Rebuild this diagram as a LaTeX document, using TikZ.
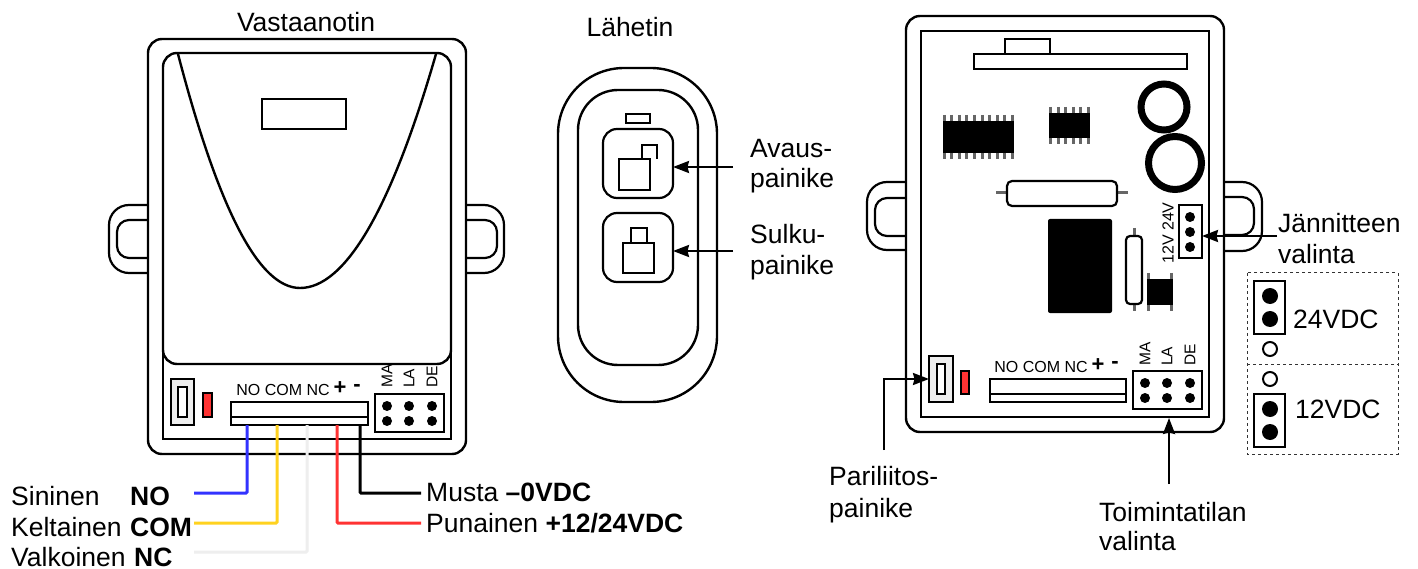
\documentclass[tikz,border=0pt]{standalone}
\usepackage{fontspec}
\setmainfont{Liberation Sans}
\usetikzlibrary{arrows.meta}
\definecolor{wblue}{HTML}{3333FF}
\definecolor{wyellow}{HTML}{FFD21F}
\definecolor{wwhite}{HTML}{EEEEEE}
\definecolor{wred}{HTML}{FF3333}
\definecolor{pingray}{HTML}{666666}
\newcommand{\rc}[6]{%
 \pgfmathsetmacro\myw{#5-#3}\pgfmathsetmacro\myh{#6-#4}%
 \pgfmathsetmacro\myx{(#3+#5)/2}\pgfmathsetmacro\myy{(#4+#6)/2}%
 \node[#1,minimum width=\myw pt,minimum height=\myh pt] (#2) at (\myx,\myy) {};}
\newcommand{\bigtxt}{\fontsize{26.5}{30}\selectfont}
\newcommand{\smalltxt}{\fontsize{16}{18}\selectfont}
\tikzset{
 x=1pt,y=-1pt,
 part/.style={draw=black,line width=2.4pt,fill=white,inner sep=0pt,outer sep=0pt},
 thin part/.style={part,line width=2.2pt},
 shell/.style={part,rounded corners=14pt},
 keybtn/.style={thin part,rounded corners=14pt},
 gray sw/.style={thin part,fill=wwhite},
 led/.style={thin part,fill=wred},
 chip/.style={fill=black,inner sep=0pt,outer sep=0pt},
 pin/.style={draw=pingray,line width=3pt},
 wire/.style={line width=3pt,rounded corners=1pt},
 pointer/.style={draw=black,line width=2.2pt,-{Stealth[length=16pt,width=12pt,inset=1.5pt]}},
 big/.style={inner sep=0pt,font=\bigtxt,anchor=base west},
 bigc/.style={inner sep=0pt,font=\bigtxt,anchor=base},
 small/.style={inner sep=0pt,font=\smalltxt,anchor=base},
 vert/.style={inner sep=0pt,font=\fontsize{15.5}{18}\selectfont,rotate=90,anchor=west},
 sym/.style={inner sep=0pt,font=\fontsize{22}{22}\selectfont\bfseries},
}
\begin{document}
\begin{tikzpicture}
\useasboundingbox (0,0) rectangle (1418,569);
\fill[white] (0,0) rectangle (1418,569);

% ---------- Receiver
\draw[line width=2.2pt,rounded corners=20pt] (148,205) -- (109,205) -- (109,273) -- (148,273);
\draw[line width=2.2pt,rounded corners=12pt] (148,220) -- (117,220) -- (117,258) -- (148,258);
\draw[line width=2.2pt,rounded corners=20pt] (466,205) -- (504,205) -- (504,273) -- (466,273);
\draw[line width=2.2pt,rounded corners=12pt] (466,220) -- (497,220) -- (497,258) -- (466,258);
\rc{shell}{recvOuter}{148}{39}{466}{454}
\draw[line width=2.4pt] (163,200) -- (163,439) -- (451,439) -- (451,200);
\rc{shell}{recvPanel}{163}{53}{451}{364}
\draw[line width=2.4pt] (178,54) .. controls (218.7,210) and (259,288) .. (300,288)
  .. controls (345,288) and (391,210) .. (436,54);
\rc{part}{recvWin}{262}{99}{346}{129}
\rc{gray sw}{recvSw}{171}{379}{194}{425}
\rc{thin part}{recvSwIn}{178}{387}{187}{417}
\rc{led}{recvLed}{203}{393}{212}{417}
\rc{thin part}{recvTerm}{231}{402}{368}{425}
\draw[line width=2.2pt] (231,417) -- (368,417);
\node[small] (recvTermTxt) at (283,395) {NO COM NC};
\node[sym] (recvPlus) at (340,388) {+};
\node[sym] (recvMinus) at (357,388) {-};
\rc{thin part}{recvDip}{375}{394}{444}{432}
\foreach \x in {387,409,432} \foreach \y in {406,421} \fill (\x,\y) circle[radius=5];
\node[vert] (recvMA) at (387,388) {MA};
\node[vert] (recvLA) at (409,388) {LA};
\node[vert] (recvDE) at (432,388) {DE};

% wires
\coordinate (wNO) at ([xshift=16pt]recvTerm.south west);
\coordinate (wCOM) at ([xshift=46pt]recvTerm.south west);
\coordinate (wNC) at ([xshift=76pt]recvTerm.south west);
\coordinate (wPos) at ([xshift=106pt]recvTerm.south west);
\coordinate (wNeg) at ([xshift=129pt]recvTerm.south west);
\coordinate (eNO) at (194,493);
\coordinate (eCOM) at (194,523);
\coordinate (eNC) at (194,552);
\coordinate (eNeg) at (421,493);
\coordinate (ePos) at (421,523);
\draw[wire,wwhite] (wNC) |- (eNC);
\draw[wire,wblue] (wNO) |- (eNO);
\draw[wire,wyellow] (wCOM) |- (eCOM);
\draw[wire,wred] (wPos) |- (ePos);
\draw[wire,black] (wNeg) |- (eNeg);
\node[big] (lblNO) at (11,505) {\makebox[119pt][l]{Sininen}\textbf{NO}};
\node[big] (lblCOM) at (11,536) {\makebox[119pt][l]{Keltainen}\textbf{COM}};
\node[big] (lblNC) at (11,566) {\makebox[123pt][l]{Valkoinen}\textbf{NC}};
\node[big] (lblNeg) at (426,501) {Musta \textbf{–0VDC}};
\node[big] (lblPos) at (426,532) {Punainen \textbf{+12/24VDC}};
\node[bigc] (recvTitle) at (306,32) {Vastaanotin};

% ---------- Transmitter
\node[bigc] (txTitle) at (630,37) {Lähetin};
\draw[line width=2.4pt,fill=white] (558,134)
  arc[start angle=180,end angle=270,radius=66] -- (651,68)
  arc[start angle=270,end angle=360,radius=66] -- (717,336)
  arc[start angle=0,end angle=90,radius=66] -- (624,402)
  arc[start angle=90,end angle=180,radius=66] -- cycle;
\draw[line width=2.4pt,fill=white] (578,130)
  arc[start angle=180,end angle=270,radius=40] -- (658,90)
  arc[start angle=270,end angle=360,radius=40] -- (698,325)
  arc[start angle=0,end angle=90,radius=40] -- (618,365)
  arc[start angle=90,end angle=180,radius=40] -- cycle;
\rc{thin part}{txLed}{626}{114}{650}{123}
\rc{keybtn}{btnOpen}{603}{129}{673}{198}
\rc{thin part}{openBody}{619}{159}{650}{190}
\draw[line width=2.2pt] (642,159) -- (642,145) -- (657,145) -- (657,159);
\rc{keybtn}{btnClose}{603}{213}{673}{282}
\rc{thin part}{closeBody}{623}{243}{654}{273}
\draw[line width=2.2pt] (631,243) -- (631,228) -- (647,228) -- (647,243);
\coordinate (aOpen) at (733,167);
\coordinate (aClose) at (733,251);
\draw[pointer] (aOpen) -- (aOpen -| btnOpen.east);
\draw[pointer] (aClose) -- (aClose -| btnClose.east);
\node[big] (lblOpen1) at (750,158) {Avaus-};
\node[big] (lblOpen2) at (750,188) {painike};
\node[big] (lblClose1) at (750,244) {Sulku-};
\node[big] (lblClose2) at (750,274) {painike};

% ---------- Receiver board
\draw[line width=2.2pt,rounded corners=20pt] (906,182) -- (867,182) -- (867,250) -- (906,250);
\draw[line width=2.2pt,rounded corners=12pt] (906,198) -- (875,198) -- (875,236) -- (906,236);
\draw[line width=2.2pt,rounded corners=20pt] (1224,182) -- (1262,182) -- (1262,251) -- (1224,251);
\draw[line width=2.2pt,rounded corners=12pt] (1224,197) -- (1254,197) -- (1254,235) -- (1224,235);
\rc{shell}{brdOuter}{906}{16}{1224}{432}
\rc{part}{brdInner}{921}{31}{1209}{417}
\rc{part}{brdTab}{1005}{39}{1050}{54}
\rc{part}{brdConn}{974}{54}{1187}{69}
\foreach \i in {0,...,9} \draw[pin] ({944+\i*7.6},115) -- ({944+\i*7.6},159);
\rc{chip}{ic1}{943}{121}{1014}{153}
\foreach \i in {0,...,5} \draw[pin] ({1050.5+\i*7.6},107) -- ({1050.5+\i*7.6},144);
\rc{chip}{ic2}{1049}{113}{1090}{138}
\draw[line width=7pt] (1164,107) circle[radius=23];
\draw[line width=7pt] (1175,163) circle[radius=26.5];
\draw[pin] (996,193) -- (1128,193);
\rc{thin part,rounded corners=5pt}{capH}{1007}{181}{1117}{206}
\rc{chip,rounded corners=2pt}{relay}{1048}{219}{1112}{313}
\draw[pin] (1134,228) -- (1134,311);
\rc{thin part,rounded corners=4pt}{capV}{1126}{236}{1142}{304}
\draw[pin] (1148.5,273) -- (1148.5,311);
\draw[pin] (1171.5,273) -- (1171.5,311);
\rc{chip}{coil}{1147}{279}{1173}{305}
\rc{thin part}{volJump}{1179}{205}{1202}{258}
\foreach \y in {217,232,247} \fill (1190,\y) circle[radius=5];
\node[inner sep=0pt,font=\smalltxt,rotate=90] (volTxt) at (1168,233) {12V 24V};
\rc{gray sw}{brdSw}{929}{356}{953}{402}
\rc{thin part}{brdSwIn}{937}{364}{945}{394}
\rc{led}{brdLed}{961}{371}{969}{394}
\rc{thin part}{brdTerm}{990}{379}{1126}{402}
\draw[line width=2.2pt] (990,394) -- (1126,394);
\node[small] (brdTermTxt) at (1041,372) {NO COM NC};
\node[sym] (brdPlus) at (1098,365) {+};
\node[sym] (brdMinus) at (1115,365) {-};
\rc{thin part}{brdDip}{1133}{371}{1202}{409}
\foreach \x in {1145,1167,1190} \foreach \y in {383,398} \fill (\x,\y) circle[radius=5];
\node[vert] (brdMA) at (1145,366) {MA};
\node[vert] (brdLA) at (1167,366) {LA};
\node[vert] (brdDE) at (1190,366) {DE};

% pointers
\coordinate (aVol) at (1277,236);
\draw[pointer] (aVol) -- (aVol -| volJump.east);
\node[big] (lblVol1) at (1278,233) {Jännitteen};
\node[big] (lblVol2) at (1278,263) {valinta};
\coordinate (aPair) at (884,450);
\coordinate (aPairY) at (884,379);
\draw[pointer] (aPair) -- (aPairY) -- (aPairY -| brdSw.west);
\node[big] (lblPair1) at (829,485) {Pariliitos-};
\node[big] (lblPair2) at (829,517) {painike};
\coordinate (aMode) at (1169,484);
\coordinate (aModeTip) at (1169,418);
\draw[pointer] (aMode) -- (aModeTip);
\node[big] (lblMode1) at (1099,521) {Toimintatilan};
\node[big] (lblMode2) at (1099,550) {valinta};

% ---------- Voltage options
\draw[draw=black!80,line width=1pt,dashed] (1247,273) rectangle (1398,454);
\draw[draw=black!80,line width=1pt,dashed] (1247,364) -- (1398,364);
\rc{thin part}{j24}{1254}{281}{1285}{334}
\fill (1270,296) circle[radius=8];
\fill (1270,319) circle[radius=8];
\draw[line width=2pt] (1270,349) circle[radius=7];
\draw[line width=2pt] (1270,379) circle[radius=7];
\rc{thin part}{j12}{1254}{394}{1285}{447}
\fill (1270,409) circle[radius=8];
\fill (1270,432) circle[radius=8];
\node[big] (lbl24) at (1293,328) {24VDC};
\node[big] (lbl12) at (1295,418) {12VDC};
\end{tikzpicture}
\end{document}
